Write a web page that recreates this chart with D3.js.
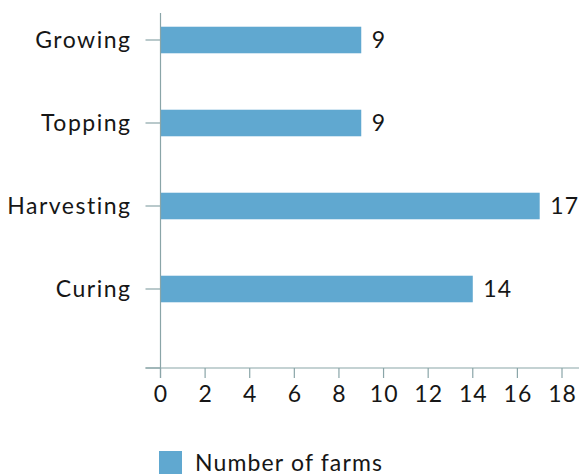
<!DOCTYPE html>
<html>
<head>
<meta charset="utf-8">
<script src="https://cdn.jsdelivr.net/npm/d3@7"></script>
<style>
  html, body { margin: 0; padding: 0; background: #fff; }
  svg { display: block; font-family: Lato, "Open Sans", sans-serif; letter-spacing: 1.1px; }
  .word { letter-spacing: 1.5px; }
  .legend-label { letter-spacing: 1.15px; }
</style>
</head>
<body>
<svg id="chart" width="579" height="475"></svg>
<script>
// Tobacco production stages and how many farms take part in each
const stages = ["Growing", "Topping", "Harvesting", "Curing"];
const farmCounts = [9, 9, 17, 14];
const xTicks = [0, 2, 4, 6, 8, 10, 12, 14, 16, 18];
const seriesName = "Number of farms";

const barColor = "#60a8d0";
const axisColor = "#8aa5a8";
const textColor = "#161616";
const fontSize = 23;

const svg = d3.select("#chart");

// plot frame
const plotLeft = 160.5, plotRight = 579, plotTop = 13, axisY = 368;

const x = d3.scaleLinear().domain([0, 18]).range([plotLeft, 562]);
const y = d3.scaleBand()
  .domain(stages)
  .range([-1.5, 330.5])
  .paddingInner(0.68)
  .paddingOuter(0.34);

const data = stages.map((s, i) => ({ stage: s, value: farmCounts[i] }));

// bars
svg.append("g")
  .selectAll("rect")
  .data(data)
  .join("rect")
  .attr("x", x(0))
  .attr("y", d => y(d.stage))
  .attr("width", d => x(d.value) - x(0))
  .attr("height", y.bandwidth())
  .attr("fill", barColor);

// value labels
svg.append("g")
  .selectAll("text")
  .data(data)
  .join("text")
  .attr("x", d => x(d.value) + 10.5)
  .attr("y", d => y(d.stage) + y.bandwidth() / 2)
  .attr("dy", "0.35em")
  .attr("font-size", fontSize)
  .attr("fill", textColor)
  .text(d => d.value);

// y axis: line, ticks, labels
const yAxis = svg.append("g");
yAxis.append("line")
  .attr("x1", plotLeft).attr("x2", plotLeft)
  .attr("y1", plotTop).attr("y2", axisY + 10)
  .attr("stroke", axisColor).attr("stroke-width", 1.2);
yAxis.selectAll("line.tick")
  .data(stages.concat([null]))
  .join("line")
  .attr("class", "tick")
  .attr("x1", plotLeft - 15).attr("x2", plotLeft)
  .attr("y1", d => d === null ? axisY : y(d) + y.bandwidth() / 2)
  .attr("y2", d => d === null ? axisY : y(d) + y.bandwidth() / 2)
  .attr("stroke", axisColor).attr("stroke-width", 1.2);
yAxis.selectAll("text")
  .data(stages)
  .join("text")
  .attr("class", "word")
  .attr("x", plotLeft - 29)
  .attr("y", d => y(d) + y.bandwidth() / 2)
  .attr("dy", "0.35em")
  .attr("text-anchor", "end")
  .attr("font-size", fontSize)
  .attr("fill", textColor)
  .text(d => d);

// x axis
const xAxis = svg.append("g").attr("transform", `translate(0,${axisY})`);
xAxis.append("line")
  .attr("x1", plotLeft - 15).attr("x2", plotRight)
  .attr("stroke", axisColor).attr("stroke-width", 1.2);
xAxis.selectAll("line.tick")
  .data(xTicks)
  .join("line")
  .attr("class", "tick")
  .attr("x1", d => x(d)).attr("x2", d => x(d))
  .attr("y1", 0).attr("y2", 10)
  .attr("stroke", axisColor).attr("stroke-width", 1.2);
xAxis.selectAll("text")
  .data(xTicks)
  .join("text")
  .attr("x", d => x(d) + 0.6)
  .attr("y", 34)
  .attr("text-anchor", "middle")
  .attr("font-size", fontSize)
  .attr("fill", textColor)
  .text(d => d);

// legend
const legend = svg.append("g").attr("transform", "translate(159,451)");
legend.append("rect")
  .attr("width", 23).attr("height", 23)
  .attr("fill", barColor);
legend.append("text")
  .attr("class", "legend-label")
  .attr("x", 36).attr("y", 20)
  .attr("font-size", fontSize)
  .attr("fill", textColor)
  .text(seriesName);
</script>
</body>
</html>
